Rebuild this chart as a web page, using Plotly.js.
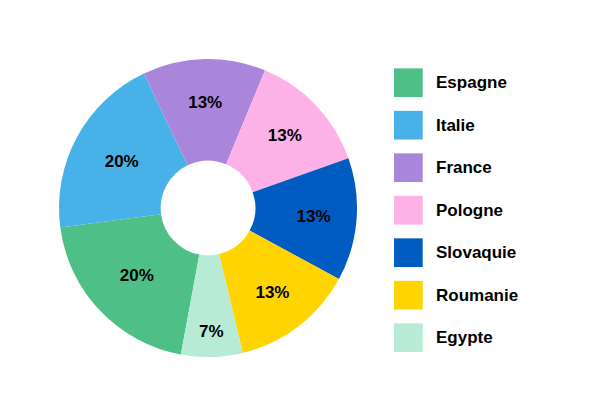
<!DOCTYPE html>
<html>
<head>
<meta charset="utf-8">
<script src="https://cdn.plot.ly/plotly-3.0.1.min.js"></script>
<style>html,body{margin:0;padding:0;background:#fff;}#chart{width:600px;height:400px;}</style>
</head>
<body>
<div id="chart"></div>
<script>
var categories = ["Espagne", "Italie", "France", "Pologne", "Slovaquie", "Roumanie", "Egypte"];
var counts = [3, 3, 2, 2, 2, 2, 1];
var colors = ["#4EC087", "#48B2E8", "#A985DB", "#FDB1E7", "#005CC0", "#FFD400", "#B7EBD6"];

var W = 600, H = 400;
var cx = 208, cy = 208, R = 149;
var fontFam = "Liberation Sans, Arial, Helvetica, sans-serif";

var trace = {
  type: "pie",
  labels: categories,
  values: counts,
  sort: false,
  direction: "clockwise",
  rotation: 190.5,
  hole: 0.318,
  marker: {colors: colors, line: {width: 0}},
  texttemplate: "%{percent:.0%}",
  textposition: "inside",
  insidetextorientation: "horizontal",
  textfont: {family: fontFam, size: 17, color: "#000", weight: "bold"},
  hoverinfo: "none",
  showlegend: false,
  domain: {x: [(cx - R) / W, (cx + R) / W], y: [1 - (cy + R) / H, 1 - (cy - R) / H]}
};

var shapes = [], annotations = [];
var legX0 = 394, legSize = 28.7, legY0 = 82.7, legStep = 42.5, legTextX = 434;
categories.forEach(function (c, i) {
  var yc = legY0 + legStep * i;
  shapes.push({
    type: "rect", xref: "paper", yref: "paper",
    x0: legX0 / W, x1: (legX0 + legSize) / W,
    y0: 1 - (yc + legSize / 2) / H, y1: 1 - (yc - legSize / 2) / H,
    fillcolor: colors[i], line: {width: 0}
  });
  annotations.push({
    xref: "paper", yref: "paper", x: legTextX / W, y: 1 - yc / H,
    xanchor: "left", yanchor: "middle", showarrow: false,
    text: c, font: {family: fontFam, size: 17, color: "#000", weight: "bold"}
  });
});

var layout = {
  width: W, height: H,
  margin: {l: 0, r: 0, t: 0, b: 0},
  paper_bgcolor: "#fff", plot_bgcolor: "#fff",
  showlegend: false,
  shapes: shapes,
  annotations: annotations
};

Plotly.newPlot("chart", [trace], layout, {displayModeBar: false, staticPlot: true});
</script>
</body>
</html>
